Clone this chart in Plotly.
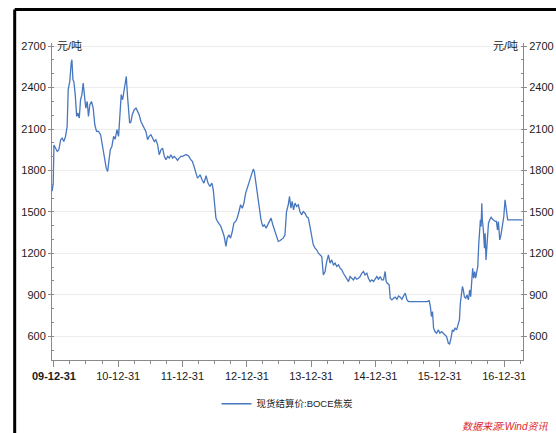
import plotly.graph_objects as go
import pandas as pd

dates = [
"2009-12-21","2009-12-27","2009-12-31","2010-01-09","2010-01-19","2010-01-28","2010-02-07","2010-02-16","2010-02-25","2010-03-07",
"2010-03-16","2010-03-22","2010-03-31","2010-04-08","2010-04-12","2010-04-18","2010-04-23","2010-05-01","2010-05-09","2010-05-16",
"2010-05-24","2010-05-31","2010-06-08","2010-06-15","2010-06-23","2010-06-30","2010-07-08","2010-07-15","2010-07-23","2010-08-01",
"2010-08-11","2010-08-20","2010-08-30","2010-09-10","2010-09-22","2010-10-01","2010-10-09","2010-10-16","2010-10-24","2010-11-01",
"2010-11-08","2010-11-16","2010-11-25","2010-12-05","2010-12-14","2010-12-24","2011-01-02","2011-01-10","2011-01-17","2011-01-25",
"2011-02-02","2011-02-09","2011-02-15","2011-02-22","2011-02-26","2011-03-06","2011-03-13","2011-03-21","2011-04-01","2011-04-11",
"2011-04-20","2011-04-29","2011-05-09","2011-05-18","2011-05-28","2011-06-06","2011-06-16","2011-06-25","2011-07-05","2011-07-14",
"2011-07-24","2011-08-02","2011-08-12","2011-08-21","2011-08-31","2011-09-09","2011-09-19","2011-09-28","2011-10-08","2011-10-17",
"2011-10-26","2011-11-05","2011-11-14","2011-11-24","2011-12-03","2011-12-12","2011-12-22","2011-12-31","2012-01-09","2012-01-19",
"2012-01-28","2012-02-06","2012-02-16","2012-02-25","2012-03-06","2012-03-15","2012-03-25","2012-04-03","2012-04-09","2012-04-20",
"2012-05-01","2012-05-13","2012-05-24","2012-06-04","2012-06-15","2012-06-23","2012-06-30","2012-07-08","2012-07-17","2012-07-27",
"2012-08-05","2012-08-15","2012-08-24","2012-09-03","2012-09-10","2012-09-20","2012-09-29","2012-10-09","2012-10-18","2012-10-28",
"2012-11-06","2012-11-16","2012-11-25","2012-12-05","2012-12-14","2012-12-24","2013-01-02","2013-01-11","2013-01-21","2013-01-30",
"2013-02-05","2013-02-11","2013-02-18","2013-02-26","2013-03-06","2013-03-13","2013-03-21","2013-03-31","2013-04-09","2013-04-19",
"2013-04-28","2013-05-08","2013-05-17","2013-05-27","2013-06-05","2013-06-17","2013-06-27","2013-07-06","2013-07-16","2013-07-25",
"2013-08-04","2013-08-13","2013-08-23","2013-08-30","2013-09-07","2013-09-14","2013-09-22","2013-09-30","2013-10-09","2013-10-19",
"2013-10-28","2013-11-07","2013-11-16","2013-11-26","2013-12-05","2013-12-15","2013-12-24","2014-01-03","2014-01-12","2014-01-22",
"2014-01-31","2014-02-10","2014-02-19","2014-03-01","2014-03-10","2014-03-20","2014-03-29","2014-04-08","2014-04-17","2014-04-27",
"2014-05-06","2014-05-16","2014-05-25","2014-06-04","2014-06-13","2014-06-23","2014-07-02","2014-07-12","2014-07-21","2014-07-31",
"2014-08-09","2014-08-18","2014-08-28","2014-09-06","2014-09-16","2014-09-25","2014-10-05","2014-10-14","2014-10-24","2014-11-02",
"2014-11-12","2014-11-21","2014-12-01","2014-12-10","2014-12-20","2014-12-29","2015-01-08","2015-01-17","2015-01-27","2015-02-05",
"2015-02-15","2015-02-24","2015-03-02","2015-03-09","2015-03-19","2015-03-25","2015-04-03","2015-04-13","2015-04-22","2015-05-02",
"2015-05-11","2015-05-21","2015-05-30","2015-06-09","2015-06-18","2015-06-28","2015-07-07","2015-07-17","2015-08-05","2015-08-24",
"2015-09-12","2015-10-01","2015-10-20","2015-11-01","2015-11-08","2015-11-14","2015-11-20","2015-11-26","2015-12-04","2015-12-13",
"2015-12-23","2016-01-01","2016-01-11","2016-01-20","2016-01-30","2016-02-08","2016-02-18","2016-02-25","2016-03-04","2016-03-12",
"2016-03-19","2016-03-27","2016-04-05","2016-04-15","2016-04-21","2016-04-26","2016-05-02","2016-05-08","2016-05-13","2016-05-19",
"2016-05-27","2016-06-03","2016-06-11","2016-06-18","2016-06-24","2016-06-30","2016-07-05","2016-07-11","2016-07-17","2016-07-22",
"2016-07-28","2016-08-03","2016-08-09","2016-08-14","2016-08-18","2016-08-22","2016-08-26","2016-08-29","2016-09-04","2016-09-10",
"2016-09-14","2016-09-19","2016-09-25","2016-10-03","2016-10-10","2016-10-18","2016-10-25","2016-11-02","2016-11-10","2016-11-17",
"2016-11-23","2016-11-28","2016-12-06","2016-12-13","2016-12-21","2016-12-29","2017-01-05","2017-01-11","2017-01-17","2017-01-20",
"2017-04-14",
]

prices = [
1650,1710,1985,1962,1938,1950,2023,2035,2010,2047,
2119,2385,2445,2578,2602,2457,2445,2349,2192,2216,
2180,2312,2349,2433,2336,2252,2300,2192,2276,2300,
2252,2131,2083,2083,2059,1986,1926,1854,1817,1793,
1878,1950,1974,2047,2027,2095,2047,2228,2349,2312,
2373,2457,2481,2336,2288,2143,2150,2204,2240,2252,
2228,2204,2155,2131,2107,2083,2023,2047,2059,2035,
2010,2023,1986,1914,1950,1962,1902,1878,1902,1890,
1914,1890,1902,1890,1873,1890,1902,1902,1907,1914,
1912,1902,1878,1866,1829,1781,1745,1757,1769,1733,
1709,1762,1709,1684,1709,1660,1527,1455,1431,1407,
1395,1358,1322,1250,1310,1334,1310,1358,1419,1431,
1455,1503,1552,1527,1564,1636,1672,1696,1745,1781,
1810,1793,1721,1660,1564,1503,1443,1395,1407,1383,
1407,1431,1455,1407,1370,1334,1286,1291,1298,1310,
1334,1503,1552,1612,1527,1576,1515,1564,1540,1552,
1503,1479,1503,1491,1467,1455,1395,1334,1262,1238,
1226,1201,1189,1177,1044,1069,1141,1189,1129,1153,
1117,1129,1105,1117,1093,1081,1056,1032,1020,996,
1032,1020,1008,1028,1013,1020,1032,1056,1069,1044,
1056,1020,996,1008,996,1013,1032,1013,1032,1008,
1008,1069,996,984,972,875,863,875,883,868,
892,883,868,892,912,863,851,851,851,846,
851,846,851,858,815,743,779,660,634,622,
646,622,634,622,610,597,549,544,585,646,
634,658,646,682,718,839,911,960,935,887,
875,899,863,935,887,984,1092,1020,1068,1020,
1056,1105,1274,1382,1443,1394,1563,1443,1370,1237,
1346,1153,1298,1418,1443,1462,1448,1438,1431,1431,
1370,1431,1298,1334,1394,1467,1588,1527,1491,1443,
1443,
]

series_name = "现货结算价:BOCE焦炭"
unit_label = "元/吨"
source_label = "数据来源:Wind资讯"
x_tick_vals = ["2009-12-31","2010-12-31","2011-12-31","2012-12-31","2013-12-31","2014-12-31","2015-12-31","2016-12-31"]
x_tick_text = ["<b>09-12-31</b>","10-12-31","11-12-31","12-12-31","13-12-31","14-12-31","15-12-31","16-12-31"]
y_range = [428, 2723]
x_range = ["2009-12-20", "2017-04-17"]

minor_x = [d.strftime("%Y-%m-%d") for d in pd.date_range("2009-12-31", "2017-03-31", freq="QE")]

FONT = "Liberation Sans Narrow, Liberation Sans, Noto Sans CJK SC, sans-serif"
AXIS_COLOR = "#8a8a8a"
LINE_COLOR = "#4677BF"

fig = go.Figure()
fig.add_trace(go.Scatter(x=dates, y=prices, mode="lines", name=series_name,
                         line=dict(color=LINE_COLOR, width=1.3)))
# same series bound to the right-hand axis (invisible) so that axis is drawn
fig.add_trace(go.Scatter(x=dates, y=prices, mode="lines", yaxis="y2", showlegend=False,
                         hoverinfo="skip", opacity=0, line=dict(color=LINE_COLOR, width=0)))

yax_common = dict(
    range=y_range, tick0=0, dtick=300, showline=True, linecolor=AXIS_COLOR, linewidth=1,
    ticks="outside", ticklen=3, tickcolor=AXIS_COLOR, tickwidth=1,
    zeroline=False, automargin=False,
    tickfont=dict(family=FONT, size=11, color="#1a1a1a"),
    minor=dict(dtick=100, tick0=0, ticks="inside", ticklen=2, tickcolor=AXIS_COLOR, showgrid=False),
)

fig.update_layout(
    width=556, height=433,
    margin=dict(l=52, r=33, t=43, b=73, autoexpand=False),
    paper_bgcolor="white", plot_bgcolor="white",
    font=dict(family=FONT, size=11, color="#1a1a1a"),
    showlegend=True,
    legend=dict(orientation="h", x=0.5, xanchor="center", y=-0.138, yanchor="middle",
                font=dict(family=FONT, size=9.5, color="#1a1a1a"), itemwidth=30,
                bgcolor="rgba(0,0,0,0)"),
    xaxis=dict(
        type="date", range=x_range, showline=True, linecolor=AXIS_COLOR, linewidth=1,
        tickmode="array", tickvals=x_tick_vals, ticktext=x_tick_text, automargin=False,
        ticks="outside", ticklen=6, tickcolor=AXIS_COLOR, showgrid=False, zeroline=False,
        tickfont=dict(family=FONT, size=11, color="#1a1a1a"),
        minor=dict(tickmode="array", tickvals=minor_x, ticks="outside", ticklen=3,
                   tickcolor=AXIS_COLOR, showgrid=False),
    ),
    yaxis=dict(side="left", showgrid=True, gridcolor="#ececec", gridwidth=1, **yax_common),
    yaxis2=dict(side="right", overlaying="y", showgrid=False, **yax_common),
)

fig.add_annotation(text=unit_label, xref="paper", yref="paper", x=0.0064, y=0.9905,
                   xanchor="left", yanchor="middle", showarrow=False,
                   font=dict(family=FONT, size=11, color="#1a1a1a"))
fig.add_annotation(text=unit_label, xref="paper", yref="paper", x=0.9936, y=0.9905,
                   xanchor="right", yanchor="middle", showarrow=False,
                   font=dict(family=FONT, size=11, color="#1a1a1a"))
fig.add_annotation(text="<i>" + source_label + "</i>", xref="paper", yref="paper", x=1.057, y=-0.211,
                   xanchor="right", yanchor="middle", showarrow=False,
                   font=dict(family=FONT, size=10, color="#E0262B"))

# outer frame (left and top edges visible)
fig.add_shape(type="line", xref="paper", yref="paper", x0=-0.0792, x1=2, y0=1.1057, y1=1.1057,
              line=dict(color="black", width=3))
fig.add_shape(type="line", xref="paper", yref="paper", x0=-0.0792, x1=-0.0792, y0=1.1057, y1=-1,
              line=dict(color="black", width=3))

fig.write_html("out.html", config={"displayModeBar": False},
               post_script="document.body.style.margin='0px';")
